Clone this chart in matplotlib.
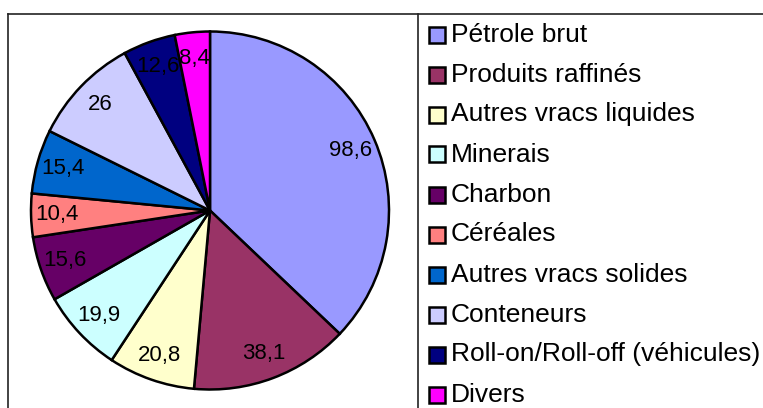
import matplotlib
matplotlib.use("Agg")
import matplotlib.pyplot as plt
import numpy as np
from matplotlib.patches import Rectangle
from matplotlib.lines import Line2D

categories = ["Pétrole brut", "Produits raffinés", "Autres vracs liquides", "Minerais",
              "Charbon", "Céréales", "Autres vracs solides", "Conteneurs",
              "Roll-on/Roll-off (véhicules)", "Divers"]
values = [98.6, 38.1, 20.8, 19.9, 15.6, 10.4, 15.4, 26, 12.6, 8.4]
value_labels = ["98,6", "38,1", "20,8", "19,9", "15,6", "10,4", "15,4", "26", "12,6", "8,4"]
colors = ["#9999FF", "#993366", "#FFFFCC", "#CCFFFF", "#660066", "#FF8080",
          "#0066CC", "#CCCCFF", "#000080", "#FF00FF"]

plt.rcParams['font.family'] = ['Liberation Sans', 'DejaVu Sans']

W, H = 763, 408
fig = plt.figure(figsize=(W / 100, H / 100), dpi=100)

cx, cy, R = 210, 210.5, 179
ax = fig.add_axes([(cx - R) / W, (H - cy - R) / H, 2 * R / W, 2 * R / H])
wedges, _ = ax.pie(values, colors=colors, startangle=90, counterclock=False, radius=1,
                   wedgeprops=dict(edgecolor="black", linewidth=1.8))
ax.set_xlim(-1, 1)
ax.set_ylim(-1, 1)
ax.set_aspect("equal")
ax.axis("off")

for w, lab in zip(wedges, value_labels):
    th = np.deg2rad((w.theta1 + w.theta2) / 2)
    ax.text(0.855 * np.cos(th), 0.855 * np.sin(th), lab, ha="center", va="center",
            fontsize=16, color="black")

# frame lines
def px_line(x0, y0, x1, y1):
    fig.add_artist(Line2D([x0 / W, x1 / W], [1 - y0 / H, 1 - y1 / H],
                          transform=fig.transFigure, color="#222222", linewidth=1.2))

px_line(8, 14, W, 14)
px_line(8, 14, 8, H)
px_line(418, 14, 418, H)

# legend
for i, (cat, col) in enumerate(zip(categories, colors)):
    yc = 34.5 + 40 * i
    s = 16
    fig.add_artist(Rectangle((428.5 / W, 1 - (yc + s / 2) / H), s / W, s / H,
                             transform=fig.transFigure, facecolor=col,
                             edgecolor="black", linewidth=1.8))
    fig.text(451 / W, 1 - yc / H, cat, ha="left", va="center", fontsize=19, color="black")

fig.savefig("out.png", dpi=100)
